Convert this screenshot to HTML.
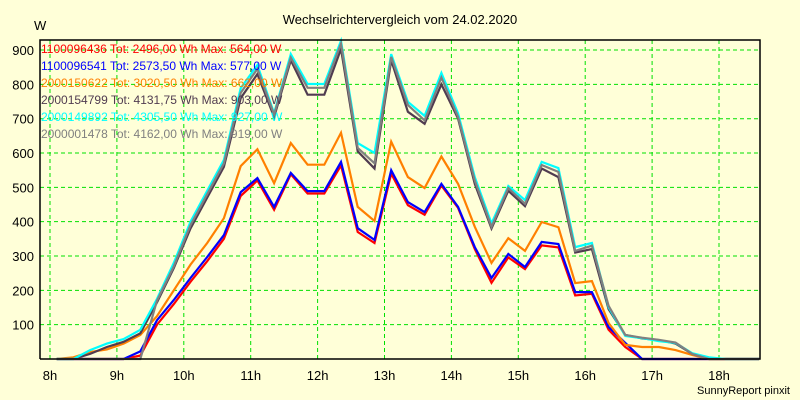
<!DOCTYPE html>
<html><head><meta charset="utf-8"><style>
html,body{margin:0;padding:0;background:#ffffd8;}
svg{display:block;font-family:"Liberation Sans",sans-serif;}
</style></head><body>
<svg id="chart" width="800" height="400">
<rect x="0" y="0" width="800" height="400" fill="#ffffd8"/>
<text x="400" y="24" text-anchor="middle" font-size="13" fill="#000">Wechselrichtervergleich vom 24.02.2020</text>
<text x="34" y="30" font-size="13" fill="#000">W</text>
<g id="grid"></g><g id="series"></g><g id="axes"></g><g id="legend"></g>
<text x="790" y="394" text-anchor="end" font-size="11" fill="#000">SunnyReport pinxit</text>
</svg>
<script>
const xTicks=[8,9,10,11,12,13,14,15,16,17,18];
const xTickLabels=["8h","9h","10h","11h","12h","13h","14h","15h","16h","17h","18h"];
const yTicks=[100,200,300,400,500,600,700,800,900];
const times=[8.1,8.35,8.6,8.85,9.1,9.35,9.6,9.85,10.1,10.35,10.6,10.85,11.1,11.35,11.6,11.85,12.1,12.35,12.6,12.85,13.1,13.35,13.6,13.85,14.1,14.35,14.6,14.85,15.1,15.35,15.6,15.85,16.1,16.35,16.6,16.85,17.1,17.35,17.6,17.85,18.1,18.35,18.6];
const seriesNames=["1100096436","1100096541","2000150622","2000154799","2000149892","2000001478"];
const seriesTot=["2496,00","2573,50","3020,50","4131,75","4305,50","4162,00"];
const seriesMax=["564,00","577,00","662,00","903,00","927,00","919,00"];
const seriesColors=["#ff0000","#0000ff","#ff8000","#503c50","#00ffff","#808080"];
const redValues=[0,0,0,0,0,10,100,160,225,285,350,475,520,435,538,482,482,564,370,338,540,448,420,505,440,320,222,296,262,331,325,185,190,85,35,0,0,0,0,0,0,0,0];
const blueValues=[0,0,0,0,0,22,113,172,236,297,361,486,527,443,542,489,489,574,381,347,550,457,428,510,443,326,236,306,268,341,335,195,195,93,47,0,0,0,0,0,0,0,0];
const orangeValues=[0,5,20,28,45,70,125,200,275,338,410,562,611,512,629,566,566,659,443,402,633,530,498,590,510,385,280,352,315,399,384,221,227,105,41,35,35,26,12,0,0,0,0];
const darkValues=[0,0,15,35,50,75,165,265,380,470,560,760,830,705,870,770,770,903,605,555,870,720,685,800,700,510,380,490,445,555,530,310,320,145,70,60,55,45,15,0,0,0,0];
const cyanValues=[0,0,26,45,58,85,175,280,400,490,580,789,856,716,888,801,801,927,629,600,888,749,708,833,715,530,395,504,463,574,556,326,338,151,67,61,52,47,17,5,0,0,0];
const grayValues=[0,0,0,0,0,0,170,270,390,480,570,775,845,712,878,790,790,919,615,570,880,740,695,820,705,520,385,498,452,565,545,315,330,155,70,62,56,48,15,0,0,0,0];
const allSeries=[redValues,blueValues,orangeValues,darkValues,cyanValues,grayValues];
const L=40,R=760,T=40,B=359;
const xs=t=>50+(t-8)*66.9;
const ys=v=>B-v*0.3433;
const NS="http://www.w3.org/2000/svg";
function mk(tag,attrs,parent){const e=document.createElementNS(NS,tag);for(const k in attrs)e.setAttribute(k,attrs[k]);parent.appendChild(e);return e;}
const grid=document.getElementById('grid'),axes=document.getElementById('axes'),ser=document.getElementById('series'),leg=document.getElementById('legend');
xTicks.forEach((t,i)=>{
  const l=mk('line',{x1:xs(t),x2:xs(t),y1:T,y2:B,stroke:'#00e000','stroke-dasharray':'4,3'},grid);
  
  
  const tx=mk('text',{x:xs(t),y:380,'text-anchor':'middle','font-size':13,fill:'#000'},axes);
  tx.textContent=xTickLabels[i];
  
  
});
yTicks.forEach(v=>{
  const l=mk('line',{x1:L,x2:R,y1:ys(v),y2:ys(v),stroke:'#00e000','stroke-dasharray':'4,3'},grid);
  
  
  const tx=mk('text',{x:34,y:ys(v)+5,'text-anchor':'end','font-size':13,fill:'#000'},axes);
  tx.textContent=v;
  
  
});
const fr=mk('path',{d:`M${L},${B} L${L},${T} L${R},${T} L${R},${B} L${L},${B}`,fill:'none',stroke:'#000','stroke-width':1.5},axes);


allSeries.forEach((vals,s)=>{
  const pts=vals.map((v,i)=>xs(times[i]).toFixed(1)+','+ys(v).toFixed(1)).join(' ');
  const p=mk('polyline',{points:pts,fill:'none',stroke:seriesColors[s],'stroke-width':2.2,'stroke-linejoin':'miter'},ser);
  
  
});
seriesNames.forEach((n,s)=>{
  const tx=mk('text',{x:41,y:53+s*17,'font-size':12,fill:seriesColors[s]},leg);
  tx.textContent=n+' Tot: '+seriesTot[s]+' Wh Max: '+seriesMax[s]+' W';
  
  
});
</script>
</body></html>
